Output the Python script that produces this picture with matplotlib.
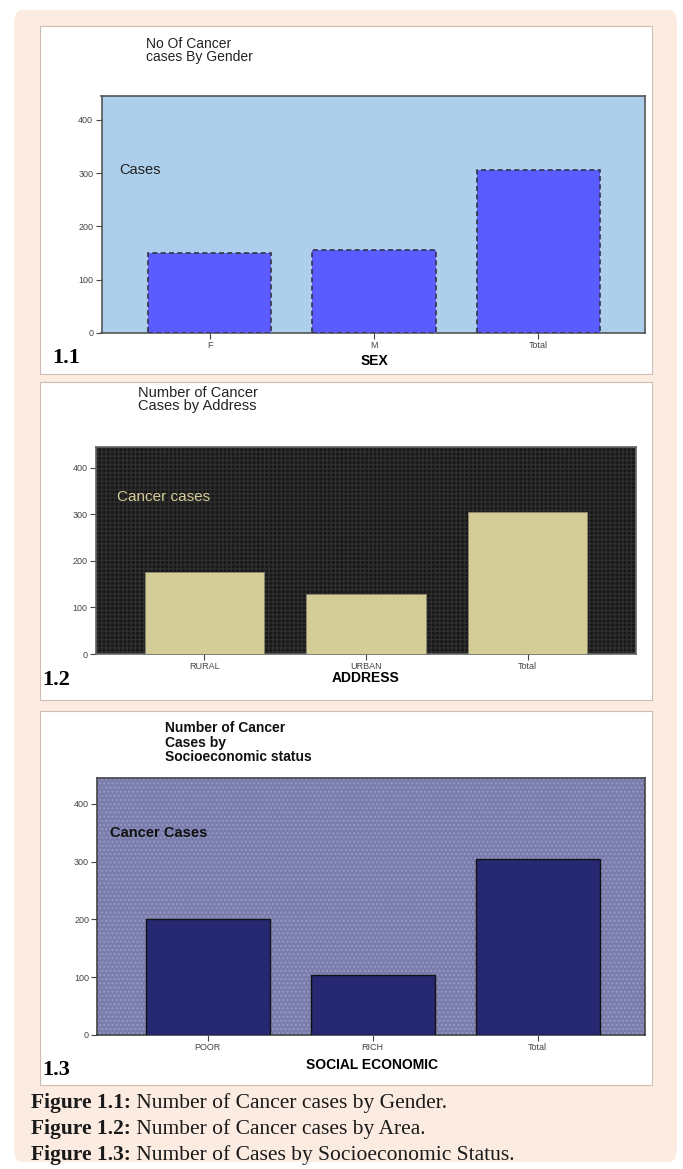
"""Three SPSS-style bar charts of cancer cases (gender / address / socioeconomic)."""
import matplotlib
matplotlib.use("Agg")
import matplotlib.pyplot as plt
from matplotlib.patches import FancyBboxPatch, Rectangle

W, H = 683, 1169

# data
sex_cats = ["F", "M", "Total"]
sex_cases = [150, 155, 305]
addr_cats = ["RURAL", "URBAN", "Total"]
addr_cases = [175, 128, 305]
ses_cats = ["POOR", "RICH", "Total"]
ses_cases = [201, 104, 305]
captions = [
    ("Figure 1.1:", " Number of Cancer cases by Gender."),
    ("Figure 1.2:", " Number of Cancer cases by Area."),
    ("Figure 1.3:", " Number of Cases by Socioeconomic Status."),
]

PEACH = "#fcebe0"
SANS = "Liberation Sans"
SERIF = "Liberation Serif"


def px_axes(fig, x0, y0, x1, y1, **kw):
    """axes from pixel box (top-left origin)"""
    return fig.add_axes([x0 / W, 1 - y1 / H, (x1 - x0) / W, (y1 - y0) / H], **kw)


def fx(x):
    return x / W


def fy(y):
    return 1 - y / H


fig = plt.figure(figsize=(W / 100, H / 100), dpi=100)
fig.patch.set_facecolor("white")

# peach rounded card and white panels
bg = FancyBboxPatch((fx(14), fy(1162)), fx(677) - fx(14), fy(10) - fy(1162),
                    boxstyle="round,pad=0,rounding_size=0.012",
                    transform=fig.transFigure, facecolor=PEACH, edgecolor="none", zorder=-3)
fig.patches.append(bg)
for top, bot in [(26, 374), (382, 700), (711, 1085)]:
    fig.patches.append(Rectangle((fx(40), fy(bot)), fx(652) - fx(40), fy(top) - fy(bot),
                                 transform=fig.transFigure, facecolor="white",
                                 edgecolor="#cdbdb5", lw=0.8, zorder=-2))


def style_axes(ax, cats, xlim, spine="#555555"):
    ax.set_xlim(*xlim)
    ax.set_ylim(0, 445)
    ax.set_yticks([0, 100, 200, 300, 400])
    ax.set_xticks(range(len(cats)))
    ax.set_xticklabels(cats, family=SANS)
    ax.set_yticklabels([0, 100, 200, 300, 400], family=SANS)
    ax.tick_params(axis="both", direction="out", length=4, width=0.8,
                   labelsize=6.5, colors="#444444", pad=2)
    for s in ax.spines.values():
        s.set_color(spine)
        s.set_linewidth(1.2)


# ---- 1.1 gender ----
ax1 = px_axes(fig, 101.5, 95.7, 645, 333)
ax1.set_facecolor("#aecfec")
ax1.bar(range(3), sex_cases, width=0.75, color="#5b5cff", edgecolor="#333344",
        linewidth=1.2, linestyle=(0, (3, 2)), zorder=3)
style_axes(ax1, sex_cats, (-0.66, 2.65))
fig.text(fx(146.5), fy(37), "No Of Cancer\ncases By Gender", fontsize=10, va="top",
         color="#222222", linespacing=0.95, family=SANS)
ax1.text(0.032, 305, "Cases", transform=ax1.get_yaxis_transform(), fontsize=10.5,
         va="center", color="#222222", family=SANS)
fig.text(fx(374), fy(361), "SEX", fontsize=10, fontweight="bold", ha="center",
         va="center", family=SANS)
fig.text(fx(52), fy(358), "1.1", fontsize=16, fontweight="bold", va="center",
         family=SERIF)

# ---- 1.2 address ----
ax2 = px_axes(fig, 96, 446.7, 636, 654)
ax2.set_facecolor("#171717")
ax2.add_patch(Rectangle((0, 0), 1, 1, transform=ax2.transAxes, facecolor="none",
                        edgecolor="#2e2e2e", hatch="++++", lw=0, zorder=1))
ax2.bar(range(3), addr_cases, width=0.74, color="#d4cd98", edgecolor="#8a8670",
        linewidth=0.6, zorder=3)
style_axes(ax2, addr_cats, (-0.67, 2.67), spine="#666666")
fig.text(fx(137.5), fy(386), "Number of Cancer\nCases by Address", fontsize=10.5, va="top",
         color="#222222", linespacing=0.95, family=SANS)
ax2.text(0.038, 337, "Cancer cases", transform=ax2.get_yaxis_transform(), fontsize=11,
         va="center", color="#d4cd98", family=SANS)
fig.text(fx(366), fy(678), "ADDRESS", fontsize=10, fontweight="bold", ha="center",
         va="center", family=SANS)
fig.text(fx(42), fy(680), "1.2", fontsize=16, fontweight="bold", va="center",
         family=SERIF)

# ---- 1.3 socioeconomic ----
ax3 = px_axes(fig, 97.4, 777.7, 645, 1035)
ax3.set_facecolor("#7a7cac")
ax3.add_patch(Rectangle((0, 0), 1, 1, transform=ax3.transAxes, facecolor="none",
                        edgecolor="#9698c4", hatch="....", lw=0, zorder=1))
ax3.bar(range(3), ses_cases, width=0.75, color="#272872", edgecolor="#111111",
        linewidth=1.0, zorder=3)
style_axes(ax3, ses_cats, (-0.668, 2.65), spine="#444444")
fig.text(fx(165), fy(721), "Number of Cancer\nCases by\nSocioeconomic status", fontsize=10,
         fontweight="bold", va="top", color="#111111", linespacing=1.05,
         family=SANS)
ax3.text(0.023, 350, "Cancer Cases", transform=ax3.get_yaxis_transform(), fontsize=10.5,
         fontweight="bold", va="center", color="#111111", family=SANS)
fig.text(fx(372), fy(1065), "SOCIAL ECONOMIC", fontsize=10, fontweight="bold",
         ha="center", va="center", family=SANS)
fig.text(fx(42), fy(1070), "1.3", fontsize=16, fontweight="bold", va="center",
         family=SERIF)

# captions
fig.canvas.draw()
for i, (head, rest) in enumerate(captions):
    y = fy(1103 + i * 26)
    t = fig.text(fx(31), y, head, fontsize=15.5, fontweight="bold", va="center",
                 family=SERIF, color="#1a1a1a")
    bb = t.get_window_extent(renderer=fig.canvas.get_renderer())
    fig.text(bb.x1 / W, y, rest, fontsize=15.5, va="center",
             family=SERIF, color="#1a1a1a")

fig.savefig("out.png", dpi=100, facecolor="white")
